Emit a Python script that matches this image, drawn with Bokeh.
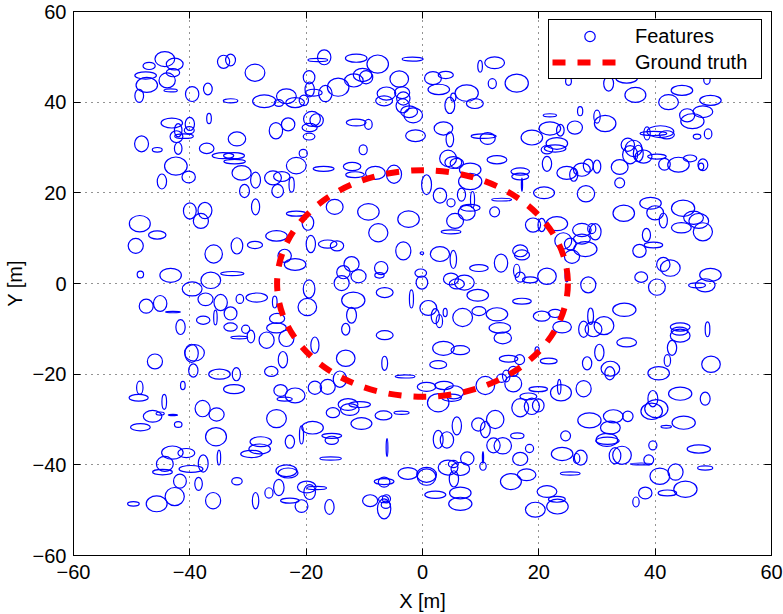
from bokeh.plotting import figure
from bokeh.models import LinearAxis, Legend, LegendItem, ColumnDataSource, FixedTicker, Range1d
from bokeh.embed import file_html
from bokeh.resources import INLINE

# ---------------- data ----------------
x_ticks = [-60, -40, -20, 0, 20, 40, 60]
y_ticks = [-60, -40, -20, 0, 20, 40, 60]
truth_x = [0.0]
truth_y = [0.0]
truth_d = [50.0]   # diameter of ground-truth circle (radius 25 m)

# feature ellipses: (x, y, width, height) in metres, grouped by region
feat_nw = [(-44.3,49.5,3.4,3.3),(-47.0,48.0,2.1,1.6),(-42.6,48.4,2.9,2.6),(-47.6,45.9,3.7,1.6),
 (-47.4,43.8,3.7,3.3),(-43.9,44.8,2.8,3.3),(-42.9,46.5,2.3,1.8),(-43.3,42.6,2.3,0.7),
 (-48.7,41.4,1.5,2.9),(-39.6,41.8,2.3,3.3),(-36.9,42.9,1.5,2.6),(-34.2,48.9,2.1,2.9),
 (-33.0,49.3,1.7,2.6),(-28.8,46.5,3.4,3.8),(-33.0,40.3,2.5,0.9),(-27.2,40.2,4.0,2.8),
 (-24.7,39.8,1.6,1.5),(-36.7,36.4,0.8,2.3),(-43.1,35.4,3.7,2.2),(-40.0,35.2,1.6,2.9),
 (-42.0,33.8,1.3,2.9),(-42.3,32.4,2.2,2.6),(-41.0,32.5,3.2,1.0),(-40.1,33.8,1.7,1.6),
 (-48.3,30.8,2.4,3.5),(-45.6,29.5,1.7,1.0),(-42.0,29.8,1.3,2.6),(-37.1,29.8,2.5,2.3),
 (-31.9,31.9,3.0,3.1),(-34.3,28.2,3.7,1.3),(-32.4,28.2,3.6,1.3),(-32.3,26.9,3.7,1.0),
 (-42.4,25.9,3.9,4.0),(-40.2,23.5,2.3,2.6),(-44.8,22.5,1.6,3.3),(-31.1,24.4,3.3,3.2),
 (-28.7,22.8,1.7,3.5),(-25.7,23.3,2.9,3.1),(-24.2,23.6,2.8,2.2),(-25.2,33.7,2.3,3.6),
 (-30.6,20.4,1.7,2.9),(-24.9,20.4,2.0,2.9)]

feat_n = [(-16.9,49.9,2.3,3.3),(-18.0,49.3,3.4,0.7),(-11.4,49.7,3.7,1.8),(-7.7,48.4,3.7,4.0),
 (-1.7,49.5,3.6,0.9),(-19.5,45.5,2.0,2.9),(-19.4,42.8,1.6,3.3),(-23.4,41.3,3.4,3.3),
 (-21.9,39.9,3.2,2.2),(-20.4,40.4,1.6,2.3),(-18.7,42.1,2.9,1.5),(-16.7,41.9,2.3,3.6),
 (-14.5,43.3,3.7,4.0),(-11.8,44.8,3.2,2.9),(-10.3,46.0,3.2,2.9),(-9.7,45.5,2.3,2.9),
 (-6.2,41.9,3.2,2.9),(-6.6,40.3,2.9,2.2),(-4.0,45.1,3.2,3.6),(-3.5,42.1,2.6,2.6),
 (-3.3,40.8,2.3,2.9),(-3.4,39.2,2.3,3.1),(-2.3,37.9,2.9,2.6),(-1.6,37.1,3.2,3.3),
 (-23.1,35.1,2.3,2.9),(-19.0,36.3,2.9,3.3),(-18.2,36.0,2.3,2.9),(-19.4,34.4,2.6,1.8),
 (-19.5,32.4,2.0,1.5),(-11.4,35.5,3.4,1.5),(-9.3,35.1,1.3,2.2),(-1.2,32.6,3.4,2.6),
 (-10.2,29.5,1.4,2.2),(-20.5,28.7,1.4,1.8),(-21.7,26.0,3.4,3.6),(-17.0,25.3,3.6,1.1),
 (-12.1,25.8,3.0,1.8),(-11.6,24.0,3.2,1.3),(-8.1,24.4,3.4,2.9),(-4.9,24.1,2.6,4.0),
 (-22.5,21.8,0.9,3.3),(1.8,45.3,2.9,2.9),(4.0,46.0,2.6,1.6),(2.8,42.8,3.7,2.3),
 (4.7,39.3,1.7,3.6),(5.3,41.1,0.9,1.8),(7.6,42.0,4.0,3.6),(9.0,39.7,2.9,2.2),
 (9.9,47.9,0.8,2.6),(12.4,48.7,3.4,2.6),(12.0,44.1,1.4,2.2),(16.2,44.2,4.0,4.0),
 (3.6,34.2,3.2,2.9),(4.7,31.8,1.3,3.3),(4.4,27.6,2.9,3.6),(5.3,26.7,2.9,2.6),
 (5.9,26.5,2.3,2.2),(10.5,32.5,4.3,1.0),(11.2,32.0,2.6,2.6),(12.8,27.3,3.4,1.8),
 (8.2,25.1,3.7,2.9),(8.2,22.5,4.0,3.6),(0.7,21.8,1.7,4.4),(16.8,24.7,3.2,1.6),
 (16.8,23.6,2.9,1.5),(17.1,21.8,0.2,2.9)]

feat_ne = [(25.1,44.6,1.0,1.8),(32.0,44.1,1.7,3.3),(35.1,45.3,3.7,2.2),(48.9,45.0,1.1,2.2),
 (36.6,41.6,3.6,3.3),(44.6,42.6,3.7,2.2),(42.3,40.0,3.4,3.3),(49.5,40.4,3.7,2.2),
 (48.2,37.9,3.4,2.6),(45.5,37.1,2.6,2.9),(46.4,35.8,4.0,3.3),(27.1,38.0,0.9,2.0),
 (30.0,36.8,1.1,2.9),(31.4,35.3,3.7,3.6),(21.9,37.1,2.3,0.7),(21.9,34.2,3.7,2.9),
 (23.7,33.8,1.3,2.6),(26.2,34.4,2.6,2.9),(18.8,32.2,3.7,3.3),(23.1,30.9,3.7,2.6),
 (22.8,29.8,3.7,1.6),(21.4,29.5,2.0,1.8),(21.4,26.4,1.6,3.3),(24.8,24.4,3.4,2.9),
 (27.4,25.1,2.9,2.9),(26.0,24.0,1.4,2.9),(28.5,26.0,1.7,2.9),(30.0,25.8,1.3,2.9),
 (33.9,22.2,1.7,2.2),(33.9,25.7,2.9,3.3),(35.7,28.4,2.6,4.0),(35.3,30.6,2.3,2.9),
 (36.3,29.8,2.9,3.6),(37.1,28.7,1.7,3.6),(38.0,28.0,2.9,2.9),(40.9,33.5,4.6,2.6),
 (39.7,33.1,4.6,0.9),(38.6,33.1,1.1,2.9),(42.0,32.8,2.6,1.8),(47.2,32.4,1.3,1.1),
 (49.1,33.0,1.3,2.2),(40.3,28.0,3.2,1.1),(41.6,26.3,2.0,2.6),(44.0,26.2,3.7,3.3),
 (46.0,27.6,2.3,1.5),(48.2,26.2,1.7,2.6),(47.9,25.8,0.9,1.5)]

feat_w = [(-40.0,16.0,2.2,3.6),(-37.4,16.1,2.4,3.6),(-38.1,13.8,2.6,3.3),(-48.6,13.2,3.6,3.6),
 (-45.6,10.7,3.0,1.8),(-49.3,8.3,2.6,3.3),(-28.7,16.9,1.4,3.5),(-25.1,10.5,3.7,2.3),
 (-31.9,8.3,2.0,3.6),(-28.8,8.5,2.6,1.6),(-35.9,6.5,3.0,4.0),(-48.5,2.0,1.1,1.5),
 (-43.3,1.8,3.7,3.1),(-32.7,2.2,4.0,0.9),(-36.4,0.7,3.4,3.6),(-39.6,-1.2,3.4,3.1),
 (-47.5,-5.0,2.4,3.1),(-45.1,-4.4,2.3,3.5),(-42.9,-6.3,2.6,0.3),(-41.6,-9.6,1.6,3.3),
 (-37.3,-3.5,2.6,2.8),(-34.7,-4.2,2.3,3.6),(-33.0,-6.6,2.2,2.9),(-35.6,-7.5,0.6,3.3),
 (-31.4,-3.4,1.3,2.0),(-28.5,-3.1,3.7,2.0),(-25.4,-4.1,0.8,2.6),(-25.0,-7.7,2.6,2.2),
 (-25.1,-9.8,3.4,2.2),(-37.7,-8.1,2.3,1.8),(-33.0,-9.6,2.3,1.8),(-30.4,-10.1,1.4,1.8),
 (-31.5,-11.9,2.9,0.6),(-29.5,-11.7,1.3,2.8),(-26.8,-12.5,2.6,3.6),(-39.7,-15.4,2.3,4.0),
 (-39.2,-15.3,3.4,3.6),(-46.0,-17.2,2.6,3.3),(-39.4,-19.2,1.6,2.9),(-24.0,-16.8,1.6,3.6),
 (-26.0,-19.4,2.3,2.2),(-34.9,-20.0,3.7,2.2),(-32.0,-20.0,1.4,2.9),(-23.4,-12.1,2.6,3.6)]

feat_c = [(-15.1,16.9,2.9,3.3),(-9.3,15.8,3.7,3.6),(-2.4,14.2,3.7,3.6),(-7.6,11.2,3.3,4.0),
 (-21.7,15.4,3.4,1.1),(-19.7,13.4,2.0,3.3),(-19.2,8.7,1.6,3.8),(-16.3,8.7,3.2,1.8),
 (-14.7,8.3,2.3,2.2),(-3.3,7.2,2.6,4.0),(-0.1,6.7,0.6,0.6),(-23.7,6.1,2.3,2.9),
 (-21.9,4.2,3.7,2.6),(-12.2,4.3,2.6,3.3),(-13.6,2.5,2.3,2.9),(-11.0,1.6,2.6,2.9),
 (-13.9,0.1,2.6,3.3),(-7.1,3.4,2.3,2.9),(-7.4,1.8,1.6,1.2),(-19.5,-1.2,2.0,4.0),
 (-19.8,-5.2,3.2,3.8),(-6.5,-2.0,2.9,2.2),(-1.9,-3.4,0.7,4.0),(-11.9,-3.7,4.0,3.6),
 (-12.2,-7.0,1.7,3.5),(-13.2,-10.1,1.4,2.6),(-6.5,-11.4,2.9,2.0),(-18.5,-13.6,1.4,3.6),
 (-13.2,-16.5,3.2,3.6),(-6.5,-17.6,1.0,3.1),(-0.3,2.3,2.0,1.8),(-0.1,0.2,2.0,2.9),
 (3.0,6.5,3.3,3.3),(5.3,5.3,1.1,4.0),(4.9,1.0,2.6,2.6),(5.9,-0.1,2.6,2.2),
 (7.2,0.2,3.4,3.3),(9.7,3.4,3.2,1.5),(13.5,4.5,2.3,4.0),(16.2,2.8,1.1,2.9),
 (16.8,1.4,1.7,2.2),(16.8,7.2,2.6,2.6),(17.1,6.3,2.6,2.2),(1.0,-5.4,2.9,3.3),
 (2.2,-7.2,1.4,3.3),(2.9,-8.3,1.1,2.9),(3.9,-6.4,0.7,1.8),(6.9,-7.5,3.4,4.0),
 (9.7,-6.1,2.4,2.0),(12.8,-6.8,3.7,2.9),(9.5,-2.6,3.7,2.6),(17.1,-3.9,3.2,1.3),
 (13.3,-9.8,3.7,2.3),(13.8,-12.0,3.0,2.6),(3.6,-14.3,3.7,3.1),(6.5,-14.7,3.2,2.0),
 (2.7,-17.9,2.9,1.8),(14.8,-16.6,3.2,1.5),(16.7,-16.8,1.7,2.2),(15.6,-19.4,1.7,2.2),
 (3.0,19.4,2.3,3.3),(4.9,17.8,1.4,1.8),(6.7,19.6,1.4,2.9),(8.6,18.5,0.7,3.6),
 (8.2,16.7,3.4,1.5),(7.6,15.6,2.9,3.3),(5.6,13.8,2.9,3.3),(4.9,11.4,3.4,0.9),
 (12.4,15.8,1.7,2.2),(13.6,18.5,3.4,0.6)]

feat_e = [(20.9,20.0,3.6,2.6),(28.1,19.8,3.0,3.6),(34.6,15.5,3.7,3.6),(39.2,17.7,3.7,2.6),
 (40.0,15.6,2.9,3.1),(41.4,13.9,1.4,3.3),(44.8,16.6,4.0,3.6),(46.6,14.5,3.4,2.9),
 (47.5,13.8,3.4,3.3),(44.5,12.3,3.4,2.3),(48.2,11.4,3.3,4.0),(19.0,12.9,2.6,3.1),
 (20.5,12.9,1.3,2.9),(23.1,13.2,3.7,3.1),(27.4,11.8,3.2,2.9),(29.1,12.1,1.4,2.2),
 (29.7,11.4,2.0,3.6),(24.2,9.4,2.9,3.6),(25.4,8.7,2.0,2.6),(28.0,7.6,4.0,3.3),
 (27.4,9.8,2.9,2.2),(25.7,5.9,2.6,2.9),(38.5,10.7,1.4,2.9),(39.7,8.5,3.2,1.3),
 (37.3,7.2,2.3,2.9),(41.4,4.2,2.3,3.1),(42.6,3.4,3.4,3.6),(49.5,1.9,3.7,2.9),
 (48.6,-0.4,3.4,2.9),(47.2,-0.4,2.9,1.1),(37.6,1.4,2.2,2.3),(40.3,-0.8,2.9,3.6),
 (28.5,-0.3,2.6,3.5),(21.4,1.6,3.2,3.6),(18.5,0.8,2.6,1.3),(20.5,-7.2,2.9,2.2),
 (22.8,-6.6,2.3,1.8),(24.0,-9.6,3.2,2.6),(34.7,-5.8,4.0,2.9),(27.7,-10.1,1.7,3.6),
 (28.9,-7.2,1.0,3.6),(29.4,-10.1,2.9,3.3),(31.2,-9.3,3.4,4.0),(35.1,-13.0,3.4,2.0),
 (30.4,-15.2,1.6,3.6),(28.3,-17.6,1.6,2.9),(21.7,-17.1,2.9,1.3),(32.3,-18.8,3.2,3.3),
 (32.2,-19.8,1.7,2.9),(44.3,-9.6,3.4,1.8),(44.2,-10.5,2.9,1.8),(44.3,-11.5,3.4,2.9),
 (42.9,-14.2,1.6,3.3),(42.1,-17.0,1.1,2.6),(49.0,-10.1,0.8,3.3),(49.6,-17.8,3.2,3.6),
 (40.6,-19.8,3.7,2.9),(24.8,1.8,0.6,2.9),(19.7,-14.7,0.7,1.5)]

feat_sw = [(-48.6,-23.0,1.1,2.9),(-48.8,-25.2,3.3,1.5),(-41.2,-22.5,0.8,1.8),(-32.4,-23.3,3.6,2.0),
 (-44.4,-26.1,0.8,3.3),(-46.4,-29.3,3.2,2.6),(-45.1,-28.7,1.4,0.7),(-42.9,-29.0,1.6,0.3),
 (-42.0,-31.1,1.3,1.3),(-48.5,-31.7,3.4,1.6),(-37.8,-27.6,2.6,3.6),(-35.4,-28.9,2.6,2.9),
 (-35.5,-33.8,3.6,4.0),(-43.0,-37.3,3.7,2.9),(-40.6,-37.4,2.9,2.0),(-44.3,-39.8,2.9,3.3),
 (-44.7,-41.6,3.4,1.2),(-39.8,-40.9,4.1,1.5),(-37.7,-39.7,1.7,3.8),(-35.0,-38.4,0.6,3.3),
 (-41.7,-43.6,2.2,3.1),(-38.5,-44.2,1.3,2.9),(-42.6,-47.0,3.3,4.0),(-45.7,-48.6,3.6,3.5),
 (-49.7,-48.6,2.0,1.0),(-36.0,-47.9,2.6,3.6),(-31.9,-43.6,1.8,1.6),(-28.7,-47.9,1.1,3.6),
 (-26.4,-46.2,1.4,2.3),(-24.7,-45.0,1.8,3.6),(-27.8,-34.9,3.7,2.2),(-28.0,-36.5,3.7,2.2),
 (-29.4,-37.6,3.7,1.6),(-25.1,-29.8,3.4,4.0),(-24.4,-23.6,2.3,2.6)]

feat_s = [(-14.2,-21.1,2.3,3.6),(-18.5,-23.0,2.3,2.9),(-16.3,-22.8,2.6,3.3),(-3.0,-20.5,3.4,0.7),
 (0.7,-22.8,3.2,2.0),(3.7,-22.5,3.2,1.8),(5.4,-24.0,3.4,2.9),(2.7,-26.3,3.7,4.0),
 (5.0,-25.2,3.4,1.6),(10.8,-22.5,3.2,4.0),(13.6,-20.9,1.7,1.8),(14.4,-20.4,1.3,2.6),
 (15.6,-22.1,2.9,3.6),(-21.9,-24.7,3.4,3.3),(-23.7,-25.5,2.6,0.9),(-12.8,-26.7,3.4,2.6),
 (-12.5,-27.8,3.2,2.6),(-10.8,-26.7,3.7,1.3),(-15.4,-28.5,2.3,2.2),(-6.7,-29.1,2.9,2.0),
 (-3.6,-28.5,2.6,0.7),(-10.5,-30.9,3.6,2.6),(-18.9,-31.8,3.7,2.8),(-20.8,-33.4,0.7,4.0),
 (-22.8,-34.9,1.6,2.9),(-15.6,-33.6,3.4,1.1),(-15.6,-34.6,2.3,1.8),(-15.8,-38.6,3.7,0.7),
 (-6.1,-36.2,0.3,4.0),(2.7,-34.4,1.7,4.0),(4.2,-34.5,2.3,3.6),(5.9,-31.4,1.6,4.0),
 (9.6,-31.1,2.3,2.9),(10.8,-32.2,1.7,3.6),(12.5,-30.0,3.0,4.0),(16.3,-33.6,2.3,1.3),
 (12.2,-35.7,2.3,3.3),(13.8,-35.8,3.0,3.6),(-23.4,-41.3,3.6,2.6),(-23.1,-41.8,3.4,2.2),
 (-19.9,-44.9,3.2,2.6),(-18.2,-45.1,3.4,0.7),(-19.4,-46.0,2.0,3.3),(-22.8,-47.9,3.2,1.1),
 (-20.8,-49.1,2.2,2.8),(-16.0,-49.3,1.6,3.3),(-6.6,-43.7,3.4,1.3),(-6.6,-43.8,2.0,2.2),
 (-9.0,-47.9,2.6,2.6),(-6.7,-47.6,1.7,1.5),(-6.2,-47.5,1.4,1.8),(-6.3,-48.8,1.6,1.6),
 (-6.6,-49.7,2.3,4.4),(-2.5,-41.9,3.4,2.6),(0.7,-42.2,3.4,3.3),(0.7,-42.7,3.2,3.6),
 (2.2,-46.6,3.6,1.6),(4.4,-40.6,3.4,3.3),(5.3,-39.8,1.7,1.6),(6.5,-40.9,3.2,2.9),
 (7.7,-38.6,2.3,2.9),(5.4,-43.1,1.6,3.6),(6.5,-46.2,3.7,2.6),(6.5,-48.6,4.0,2.9),
 (10.4,-40.3,1.1,1.8),(10.4,-38.4,0.2,2.6),(15.2,-43.7,3.6,3.5),(16.8,-38.7,2.6,2.9),
 (16.8,-27.4,2.9,4.0)]

feat_se = [(19.9,-23.3,3.2,1.1),(23.5,-22.8,0.6,3.3),(23.8,-24.1,3.6,3.6),(27.7,-23.2,2.6,3.6),
 (18.2,-24.9,2.9,1.5),(18.8,-27.1,2.6,3.6),(19.9,-26.9,2.0,2.9),(39.6,-25.4,1.7,3.6),
 (40.2,-27.6,4.0,4.0),(44.3,-24.3,4.0,2.9),(48.6,-25.4,1.7,2.9),(39.4,-28.2,3.7,3.6),
 (44.9,-30.7,4.0,2.9),(41.9,-31.6,1.8,0.6),(28.7,-30.2,4.0,3.3),(32.8,-29.3,3.4,2.9),
 (35.3,-29.3,1.8,2.3),(32.3,-31.8,3.4,2.9),(31.7,-34.5,3.7,2.9),(31.8,-34.7,4.0,1.6),
 (24.6,-33.6,1.7,2.2),(24.0,-37.6,3.7,2.9),(26.5,-38.6,1.1,2.2),(27.2,-38.4,2.2,3.3),
 (33.1,-38.0,2.0,3.6),(34.3,-37.9,3.2,4.0),(39.6,-35.7,1.4,2.0),(47.5,-36.5,4.0,1.8),
 (38.9,-38.9,1.7,2.2),(37.6,-39.8,3.7,0.4),(48.6,-40.7,2.6,0.9),(25.4,-41.9,3.4,0.7),
 (17.9,-42.2,3.2,2.6),(18.4,-36.4,1.4,1.8),(40.8,-42.5,3.4,3.6),(43.5,-41.6,2.6,3.6),
 (45.2,-45.4,4.0,3.6),(42.1,-46.2,3.2,1.3),(38.3,-46.2,2.3,2.6),(36.7,-48.2,1.1,2.2),
 (21.4,-45.9,3.4,2.6),(23.1,-47.6,2.9,1.3),(23.2,-49.2,3.7,3.3),(19.4,-49.9,3.4,3.3)]

features = feat_nw + feat_n + feat_ne + feat_w + feat_c + feat_e + feat_sw + feat_s + feat_se
src = ColumnDataSource(data=dict(
    x=[f[0] for f in features], y=[f[1] for f in features],
    w=[f[2] for f in features], h=[f[3] for f in features]))

# ---------------- figure ----------------
FONT = "Liberation Sans"
FS = "20px"

p = figure(width=783, height=614, x_range=Range1d(-60, 60), y_range=Range1d(-60, 60),
           output_backend="svg", toolbar_location=None,
           min_border_left=73, min_border_right=12, min_border_top=11, min_border_bottom=57)
p.background_fill_color = "white"
p.border_fill_color = "white"
p.outline_line_color = "black"
p.outline_line_width = 1

p.ellipse(x="x", y="y", width="w", height="h", source=src,
          fill_color=None, line_color="#0000ff", line_width=1.2)

p.ellipse(x=truth_x, y=truth_y, width=truth_d, height=truth_d, fill_color=None,
          line_color="#ff0000", line_width=6, line_dash="13 12", line_cap="butt")

# legend proxies (hidden renderers, only used to draw the legend glyphs)
feat_leg = p.scatter(x=truth_x, y=truth_y, marker="circle", size=13, fill_color=None,
                     line_color="#0000ff", line_width=1.2, visible=False)
truth_leg = p.line(x=truth_x, y=truth_y, line_color="#ff0000", line_width=6,
                   line_dash="13 12", visible=False)

for ax in (p.xaxis[0], p.yaxis[0]):
    ax.major_tick_in = 7
    ax.major_tick_out = 0
    ax.minor_tick_line_color = None
    ax.major_label_text_font = FONT
    ax.major_label_text_font_size = FS
    ax.major_label_text_color = "black"
    ax.axis_label_text_font = FONT
    ax.axis_label_text_font_size = FS
    ax.axis_label_text_font_style = "normal"
    ax.axis_label_text_color = "black"
    ax.axis_line_color = "black"
    ax.major_tick_line_color = "black"

p.xaxis[0].ticker = FixedTicker(ticks=x_ticks)
p.yaxis[0].ticker = FixedTicker(ticks=y_ticks)
p.xaxis[0].axis_label = "X [m]"
p.yaxis[0].axis_label = "Y [m]"
p.xaxis[0].major_label_standoff = 9
p.xaxis[0].axis_label_standoff = 8
p.yaxis[0].major_label_standoff = 7
p.yaxis[0].axis_label_standoff = 4

for loc, tk in (("above", x_ticks), ("right", y_ticks)):
    ax = LinearAxis(ticker=FixedTicker(ticks=tk), major_tick_in=7, major_tick_out=0,
                    minor_tick_line_color=None, major_label_text_font_size="1px",
                    major_label_text_color=None, major_label_standoff=0,
                    axis_line_color="black", major_tick_line_color="black")
    p.add_layout(ax, loc)

p.xgrid.ticker = FixedTicker(ticks=x_ticks)
p.ygrid.ticker = FixedTicker(ticks=y_ticks)
p.grid.grid_line_color = "black"
p.grid.grid_line_alpha = 0.85
p.grid.grid_line_dash = "1 5"
p.grid.grid_line_width = 1

legend = Legend(items=[LegendItem(label="Features", renderers=[feat_leg]),
                       LegendItem(label="Ground truth", renderers=[truth_leg])],
                location=(475, 476), orientation="vertical",
                label_text_font=FONT, label_text_font_size=FS, label_text_color="black",
                glyph_width=75, glyph_height=26, label_height=20, label_width=123,
                label_standoff=8, padding=3, spacing=0, margin=0,
                border_line_color="black", border_line_width=1, border_line_alpha=1.0,
                background_fill_color="white", background_fill_alpha=1.0,
                inactive_fill_alpha=0.0)
p.add_layout(legend)

open("out.html", "w").write(file_html(p, INLINE))
